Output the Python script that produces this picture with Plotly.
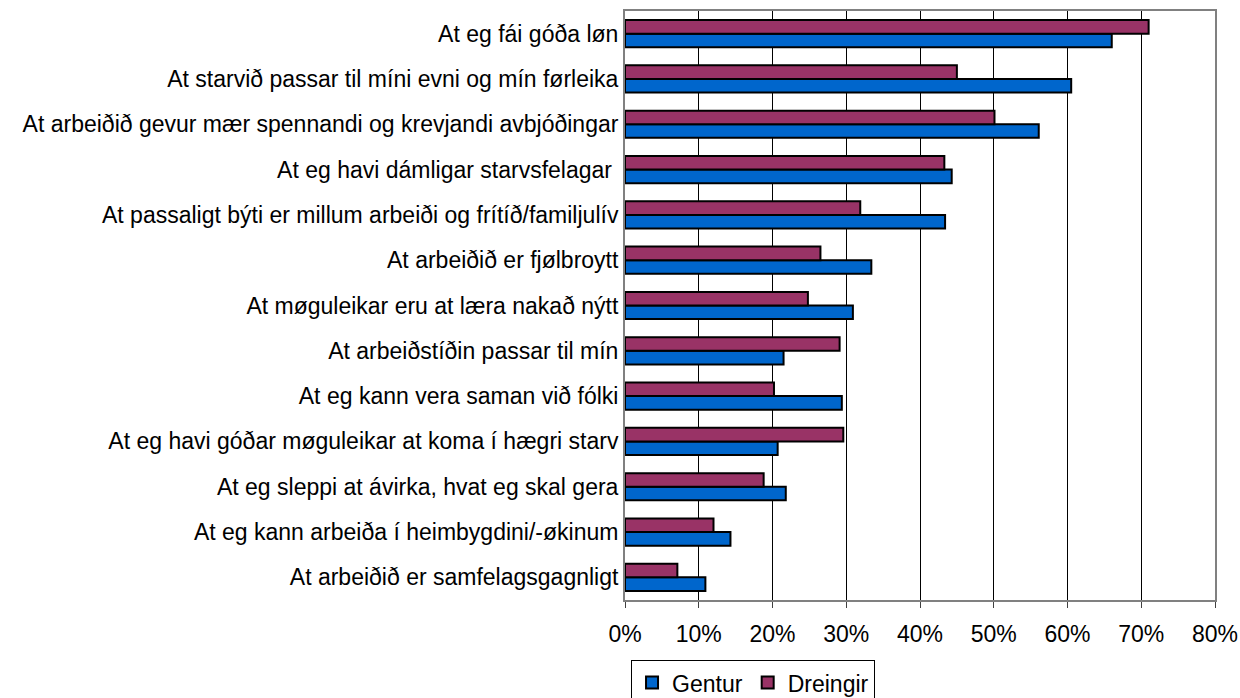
import plotly.graph_objects as go

categories = [
    "At eg fái góða løn",
    "At starvið passar til míni evni og mín førleika",
    "At arbeiðið gevur mær spennandi og krevjandi avbjóðingar",
    "At eg havi dámligar starvsfelagar\u00a0",
    "At passaligt býti er millum arbeiði og frítíð/familjulív",
    "At arbeiðið er fjølbroytt",
    "At møguleikar eru at læra nakað nýtt",
    "At arbeiðstíðin passar til mín",
    "At eg kann vera saman við fólki",
    "At eg havi góðar møguleikar at koma í hægri starv",
    "At eg sleppi at ávirka, hvat eg skal gera",
    "At eg kann arbeiða í heimbygdini/-økinum",
    "At arbeiðið er samfelagsgagnligt",
]
gentur = [0.660, 0.605, 0.561, 0.443, 0.434, 0.334, 0.309, 0.215, 0.294, 0.207, 0.218, 0.143, 0.109]
dreingir = [0.710, 0.450, 0.501, 0.433, 0.319, 0.265, 0.248, 0.291, 0.202, 0.296, 0.188, 0.120, 0.071]
tick_vals = [0, 0.1, 0.2, 0.3, 0.4, 0.5, 0.6, 0.7, 0.8]
tick_text = ["0%", "10%", "20%", "30%", "40%", "50%", "60%", "70%", "80%"]

fig = go.Figure()
fig.add_trace(go.Bar(
    name="Gentur", y=categories, x=gentur, orientation="h",
    marker=dict(color="#0066CC", line=dict(color="black", width=2)),
))
fig.add_trace(go.Bar(
    name="Dreingir", y=categories, x=dreingir, orientation="h",
    marker=dict(color="#993366", line=dict(color="black", width=2)),
))

fig.update_layout(
    width=1240, height=698,
    barmode="group", bargap=0.40, bargroupgap=0.0,
    plot_bgcolor="white", paper_bgcolor="white",
    margin=dict(l=625, r=25, t=11, b=98, autoexpand=False),
    font=dict(family="Liberation Sans, Arial, sans-serif", size=23, color="black"),
    xaxis=dict(
        range=[0, 0.8], tickvals=tick_vals, ticktext=tick_text,
        showgrid=True, gridcolor="black", gridwidth=1,
        showline=True, linecolor="#808080", linewidth=2, mirror=True,
        ticks="outside", ticklen=6, tickcolor="#404040", tickwidth=1,
        ticklabelstandoff=6,
        zeroline=False, fixedrange=True, automargin=False,
    ),
    yaxis=dict(
        categoryorder="array", categoryarray=list(reversed(categories)),
        showline=True, linecolor="#808080", linewidth=2, mirror=True,
        ticks="", ticklen=0, showgrid=False, fixedrange=True, automargin=False,
    ),
    legend=dict(
        orientation="h", x=0.217, xanchor="center", y=-0.102, yanchor="top",
        bordercolor="black", borderwidth=1, font=dict(size=23),
        traceorder="normal", itemwidth=30,
    ),
    showlegend=True,
)

fig.write_html(
    "out.html",
    config={"displayModeBar": False},
    post_script="document.body.style.margin='0';document.body.style.overflow='hidden';",
)
